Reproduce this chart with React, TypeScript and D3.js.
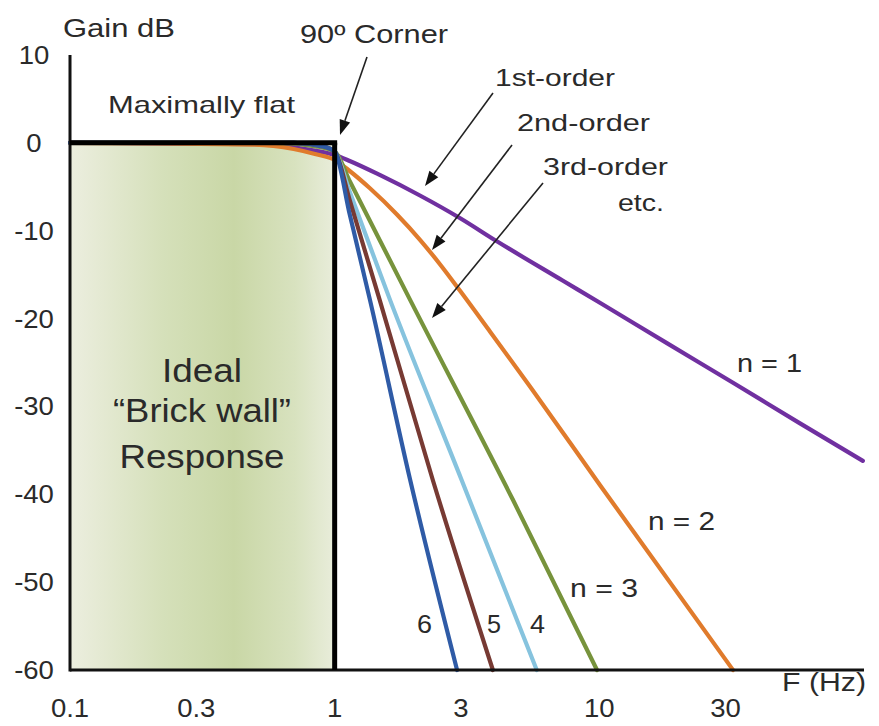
import React from "react";
import * as d3 from "d3";

const W = 879;
const H = 726;

const freqTicks = [0.1, 0.3, 1, 3, 10, 30];
const freqTickLabels = ["0.1", "0.3", "1", "3", "10", "30"];
const gainTicks = [10, 0, -10, -20, -30, -40, -50, -60];

// n = 1 (purple)
const n1Freq = [0.1, 0.5, 0.7, 0.85, 1, 1.14, 1.48, 2.1, 2.97, 4.1, 7.29, 10.05, 18, 32, 57.1, 99];
const n1Gain = [0, -0.15, -0.5, -0.9, -1.38, -2.06, -3.65, -5.99, -8.55, -11.2, -15.7, -18.2, -22.8, -27.3, -31.9, -36.2];
// n = 2 (orange)
const n2Freq = [0.1, 0.5, 0.7, 0.85, 1, 1.143, 1.359, 1.719, 2.101, 2.499, 2.972, 3.866, 5.47, 10.05, 32];
const n2Gain = [0, -0.2, -0.7, -1.3, -1.95, -3.23, -5.17, -8.15, -11.03, -13.81, -16.81, -21.49, -27.73, -38.94, -60];
// n = 3 (green)
const n3Freq = [0.1, 0.6, 0.85, 1, 1.142, 1.93, 4.71, 9.8];
const n3Gain = [0, 0, -0.4, -1.0, -4.4, -17.9, -40.6, -60];
// n = 4 (light blue)
const n4Freq = [0.1, 0.7, 0.9, 1, 1.142, 1.62, 3.02, 5.8];
const n4Gain = [0, 0, -0.4, -1.0, -5.63, -17.9, -38.4, -60];
// n = 5 (brown)
const n5Freq = [0.1, 0.7, 0.9, 1, 1.142, 1.48, 2.35, 3.96];
const n5Gain = [0, 0, -0.4, -1.0, -6.61, -17.9, -38.4, -60];
// n = 6 (blue)
const n6Freq = [0.1, 0.7, 0.9, 1, 1.142, 1.36, 1.93, 2.9];
const n6Gain = [0, 0, -0.4, -1.0, -8.25, -17.9, -38.4, -60];

const series = [
  { name: "n1", freq: n1Freq, gain: n1Gain, color: "#7030a0" },
  { name: "n2", freq: n2Freq, gain: n2Gain, color: "#e07b2c" },
  { name: "n3", freq: n3Freq, gain: n3Gain, color: "#77933c" },
  { name: "n4", freq: n4Freq, gain: n4Gain, color: "#86c3de" },
  { name: "n5", freq: n5Freq, gain: n5Gain, color: "#773a33" },
  { name: "n6", freq: n6Freq, gain: n6Gain, color: "#2f5ba6" },
];

const FONT = "'Liberation Sans', Arial, sans-serif";
const TXT = "#2a2a2a";

function Label({ x, y, w, size, children, anchor = "start" }: any) {
  return (
    <text
      x={x}
      y={y}
      fontSize={size}
      fontFamily={FONT}
      fill={TXT}
      textAnchor={anchor}
      textLength={w}
      lengthAdjust="spacingAndGlyphs"
    >
      {children}
    </text>
  );
}

function Arrow({ x1, y1, x2, y2 }: any) {
  const ang = Math.atan2(y2 - y1, x2 - x1);
  const L = 15;
  const hw = 5.5;
  const bx = x2 - L * Math.cos(ang);
  const by = y2 - L * Math.sin(ang);
  const px = -Math.sin(ang) * hw;
  const py = Math.cos(ang) * hw;
  return (
    <g>
      <line x1={x1} y1={y1} x2={bx} y2={by} stroke="#222" strokeWidth={1.6} />
      <polygon points={`${x2},${y2} ${bx + px},${by + py} ${bx - px},${by - py}`} fill="#111" />
    </g>
  );
}

export default function App() {
  const x = d3.scaleLog().domain([0.1, 100]).range([70, 864]);
  const y = d3.scaleLinear().domain([10, -60]).range([55, 670]);
  const line = d3
    .line<[number, number]>()
    .x((d) => x(d[0]))
    .y((d) => y(d[1]))
    .curve(d3.curveMonotoneX);

  const x0 = x(0.1);
  const x1 = x(1);
  const y0 = y(0);
  const yb = y(-60);

  return (
    <svg width={W} height={H} style={{ position: "absolute", left: 0, top: 0, background: "#fff" }}>
      <defs>
        <linearGradient id="brick" x1="0" x2="1" y1="0" y2="0">
          <stop offset="0" stopColor="#eceedf" />
          <stop offset="0.35" stopColor="#d5e0ba" />
          <stop offset="0.62" stopColor="#c9d7a6" />
          <stop offset="0.85" stopColor="#d8e2bf" />
          <stop offset="1" stopColor="#e9eddb" />
        </linearGradient>
      </defs>
      <rect x={x0} y={y0} width={x1 - x0} height={yb - y0} fill="url(#brick)" />

      {series.map((s) => (
        <path
          key={s.name}
          d={line(s.freq.map((f, i) => [f, s.gain[i]] as [number, number])) || ""}
          fill="none"
          stroke={s.color}
          strokeWidth={4.2}
          strokeLinecap="round"
        />
      ))}

      {/* axes */}
      <line x1={x0} y1={y(10)} x2={x0} y2={yb + 1.5} stroke="#111" strokeWidth={3} />
      <line x1={x0} y1={yb} x2={x(100)} y2={yb} stroke="#111" strokeWidth={3} />
      {/* brick wall */}
      <line x1={x0} y1={y0} x2={x1 + 2.5} y2={y0} stroke="#000" strokeWidth={5} />
      <line x1={x1} y1={y0} x2={x1} y2={yb} stroke="#000" strokeWidth={5} />

      {/* tick labels */}
      {gainTicks.map((g) => (
        <text
          key={g}
          x={34}
          y={y(g)}
          dy="0.36em"
          fontSize={25}
          fontFamily={FONT}
          fill={TXT}
          textAnchor="middle"
          transform={`translate(34,0) scale(1.1,1) translate(-34,0)`}
        >
          {g}
        </text>
      ))}
      {freqTicks.map((f, i) => (
        <text
          key={f}
          x={x(f)}
          y={717}
          fontSize={25}
          fontFamily={FONT}
          fill={TXT}
          textAnchor="middle"
          transform={`translate(${x(f)},0) scale(1.1,1) translate(${-x(f)},0)`}
        >
          {freqTickLabels[i]}
        </text>
      ))}

      <Label x={63} y={37} w={112} size={25}>Gain dB</Label>
      <Label x={782} y={691} w={84} size={25}>F (Hz)</Label>
      <Label x={300} y={43} w={148} size={26}>90º Corner</Label>
      <Label x={108} y={113} w={187} size={24}>Maximally flat</Label>
      <Label x={495} y={86} w={120} size={24}>1st-order</Label>
      <Label x={517} y={131} w={133} size={24}>2nd-order</Label>
      <Label x={543} y={175} w={125} size={24}>3rd-order</Label>
      <Label x={618} y={211} w={46} size={24}>etc.</Label>

      <Label x={202} y={382} w={80} size={33} anchor="middle">Ideal</Label>
      <Label x={202} y={422} w={178} size={33} anchor="middle">“Brick wall”</Label>
      <Label x={202} y={468} w={165} size={33} anchor="middle">Response</Label>

      <Label x={737} y={372} w={65} size={25}>n = 1</Label>
      <Label x={648} y={530} w={67} size={25}>n = 2</Label>
      <Label x={570} y={597} w={68} size={25}>n = 3</Label>
      <Label x={417} y={633} w={15} size={25}>6</Label>
      <Label x={487} y={633} w={14} size={25}>5</Label>
      <Label x={530} y={633} w={15} size={25}>4</Label>

      <Arrow x1={367} y1={57} x2={340} y2={135} />
      <Arrow x1={493} y1={93} x2={425} y2={186} />
      <Arrow x1={512} y1={145} x2={432} y2={250} />
      <Arrow x1={543} y1={183} x2={432} y2={318} />
    </svg>
  );
}
